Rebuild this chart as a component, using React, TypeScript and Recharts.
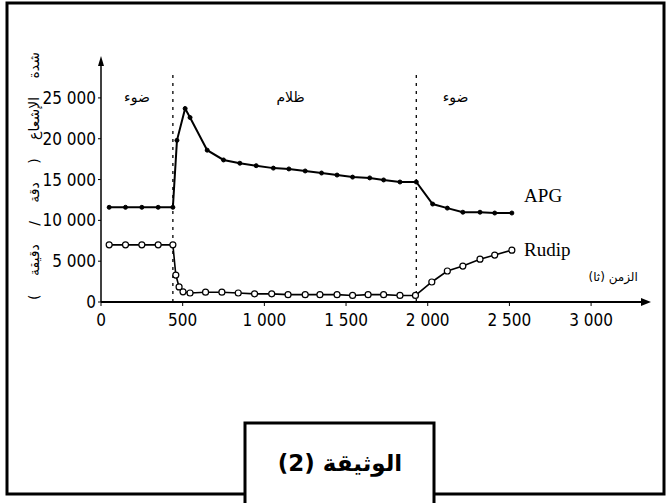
import { LineChart, Line, XAxis, YAxis, ReferenceLine, ReferenceDot, Label } from "recharts";

// time (s) / radioactivity (counts per minute)
const apgTimes = [50, 150, 250, 350, 440, 465, 515, 545, 650, 750, 850, 950, 1055, 1150, 1250, 1350, 1445, 1540, 1645, 1730, 1830, 1930, 2030, 2120, 2215, 2320, 2410, 2515];
const apgValues = [11600, 11600, 11600, 11600, 11600, 19800, 23700, 22600, 18600, 17400, 17000, 16700, 16400, 16300, 16050, 15800, 15550, 15300, 15200, 14950, 14700, 14700, 12000, 11500, 11000, 11000, 10900, 10900];

const rudipTimes = [50, 150, 250, 350, 440, 458, 478, 502, 545, 640, 740, 840, 940, 1045, 1145, 1250, 1340, 1445, 1540, 1635, 1730, 1830, 1925, 2025, 2120, 2215, 2320, 2410, 2515];
const rudipValues = [7000, 7000, 7000, 7000, 7000, 3300, 1850, 1250, 1100, 1200, 1200, 1100, 1000, 1000, 900, 900, 900, 900, 800, 900, 900, 800, 800, 2450, 3800, 4400, 5250, 5750, 6350];

const xTicks = [0, 500, 1000, 1500, 2000, 2500, 3000];
const yTicks = [0, 5000, 10000, 15000, 20000, 25000];
const phaseSwitches = [440, 1930];

const phaseLabels = [
  { x: 220, y: 25100, text: "ضوء" },
  { x: 1160, y: 25100, text: "ظلام" },
  { x: 2170, y: 25100, text: "ضوء" },
];
const seriesLabels = [
  { x: 2590, y: 13100, text: "APG" },
  { x: 2590, y: 6400, text: "Rudip" },
];

const X_MAX = 3330;
const Y_MAX = 29400;

const apgData = apgTimes.map((t, i) => ({ t, v: apgValues[i] }));
const rudipData = rudipTimes.map((t, i) => ({ t, v: rudipValues[i] }));

const NUM_FONT = "'Liberation Sans Narrow', 'DejaVu Sans Condensed', sans-serif";
const SERIF_FONT = "'Liberation Serif', serif";
const AR_FONT = "'DejaVu Sans', sans-serif";

const fmt = (v: number) => (v >= 1000 ? `${Math.floor(v / 1000)} ${String(v % 1000).padStart(3, "0")}` : String(v));

function TextMark(props: any, text: string, anchor: string, size: number, font: string, weight = "normal") {
  return (
    <text x={props.cx} y={props.cy} textAnchor={anchor} dominantBaseline="central" fontSize={size} fontFamily={font} fontWeight={weight} fill="#000">
      {text}
    </text>
  );
}

export default function App() {
  return (
    <div style={{ position: "absolute", left: 0, top: 0, width: 671, height: 503, background: "#fff", overflow: "hidden" }}>
      <svg width={671} height={503} style={{ position: "absolute", left: 0, top: 0 }}>
        <path d="M245 503 L245 423 L434 423 L434 503" fill="none" stroke="#000" strokeWidth={3} />
        <path d="M245 494 L7 494 L7 3 L664 3 L664 494 L434 494" fill="none" stroke="#000" strokeWidth={3} />
        <text x={340} y={463} textAnchor="middle" dominantBaseline="central" fontSize={23} fontWeight="bold" fontFamily={AR_FONT} fill="#000" direction="rtl">
          الوثيقة (2)
        </text>
      </svg>
      <div style={{ position: "absolute", left: 0, top: 0 }}>
        <LineChart width={671} height={503} margin={{ top: 62, right: 26, left: 41, bottom: 171 }}>
          <XAxis
            type="number"
            dataKey="t"
            domain={[0, X_MAX]}
            ticks={xTicks}
            tickFormatter={fmt}
            allowDataOverflow
            height={30}
            tickSize={4}
            tickMargin={8}
            axisLine={{ stroke: "#000", strokeWidth: 2 }}
            tickLine={{ stroke: "#000" }}
            tick={{ fill: "#000", fontSize: 17, fontFamily: NUM_FONT }}
          />
          <YAxis
            type="number"
            dataKey="v"
            domain={[0, Y_MAX]}
            ticks={yTicks}
            tickFormatter={fmt}
            allowDataOverflow
            width={60}
            tickSize={3}
            tickMargin={2}
            axisLine={{ stroke: "#000", strokeWidth: 1.5 }}
            tickLine={{ stroke: "#000" }}
            tick={{ fill: "#000", fontSize: 17, fontFamily: NUM_FONT }}
          >
            <Label
              content={(p: any) => {
                const vb = p.viewBox;
                const cx = vb.x - 7;
                const cy = 176;
                return (
                  <text x={cx} y={cy} transform={`rotate(-90 ${cx} ${cy})`} textAnchor="middle" dominantBaseline="central" fontSize={14} fontFamily={AR_FONT} fill="#000" direction="rtl" wordSpacing={14}>
                    شدة الإشعاع ( دقة / دقيقة )
                  </text>
                );
              }}
            />
          </YAxis>
          {phaseSwitches.map((x) => (
            <ReferenceLine key={x} segment={[{ x, y: 0 }, { x, y: 28000 }]} stroke="#000" strokeWidth={1.3} strokeDasharray="3 5" />
          ))}
          <Line data={apgData} dataKey="v" type="linear" stroke="#000" strokeWidth={2} isAnimationActive={false}
            dot={{ r: 2, fill: "#000", stroke: "#000", strokeWidth: 1 }} />
          <Line data={rudipData} dataKey="v" type="linear" stroke="#000" strokeWidth={1.6} isAnimationActive={false}
            dot={{ r: 3, fill: "#fff", stroke: "#000", strokeWidth: 1.2 }} />
          {phaseLabels.map((l, i) => (
            <ReferenceDot key={"p" + i} x={l.x} y={l.y} ifOverflow="visible" shape={(p: any) => TextMark(p, l.text, "middle", 14, AR_FONT)} />
          ))}
          {seriesLabels.map((l, i) => (
            <ReferenceDot key={"s" + i} x={l.x} y={l.y} ifOverflow="visible" shape={(p: any) => TextMark(p, l.text, "start", 19, SERIF_FONT)} />
          ))}
          <ReferenceDot x={3135} y={3100} ifOverflow="visible" shape={(p: any) => TextMark(p, "الزمن (ثا)", "middle", 12, AR_FONT)} />
          <ReferenceDot x={X_MAX} y={0} ifOverflow="visible"
            shape={(p: any) => <path d={`M${p.cx + 6} ${p.cy} L${p.cx - 4} ${p.cy - 4} L${p.cx - 4} ${p.cy + 4} Z`} fill="#000" />} />
          <ReferenceDot x={0} y={Y_MAX} ifOverflow="visible"
            shape={(p: any) => <path d={`M${p.cx} ${p.cy - 6} L${p.cx - 3} ${p.cy + 4} L${p.cx + 3} ${p.cy + 4} Z`} fill="#000" />} />
        </LineChart>
      </div>
    </div>
  );
}
